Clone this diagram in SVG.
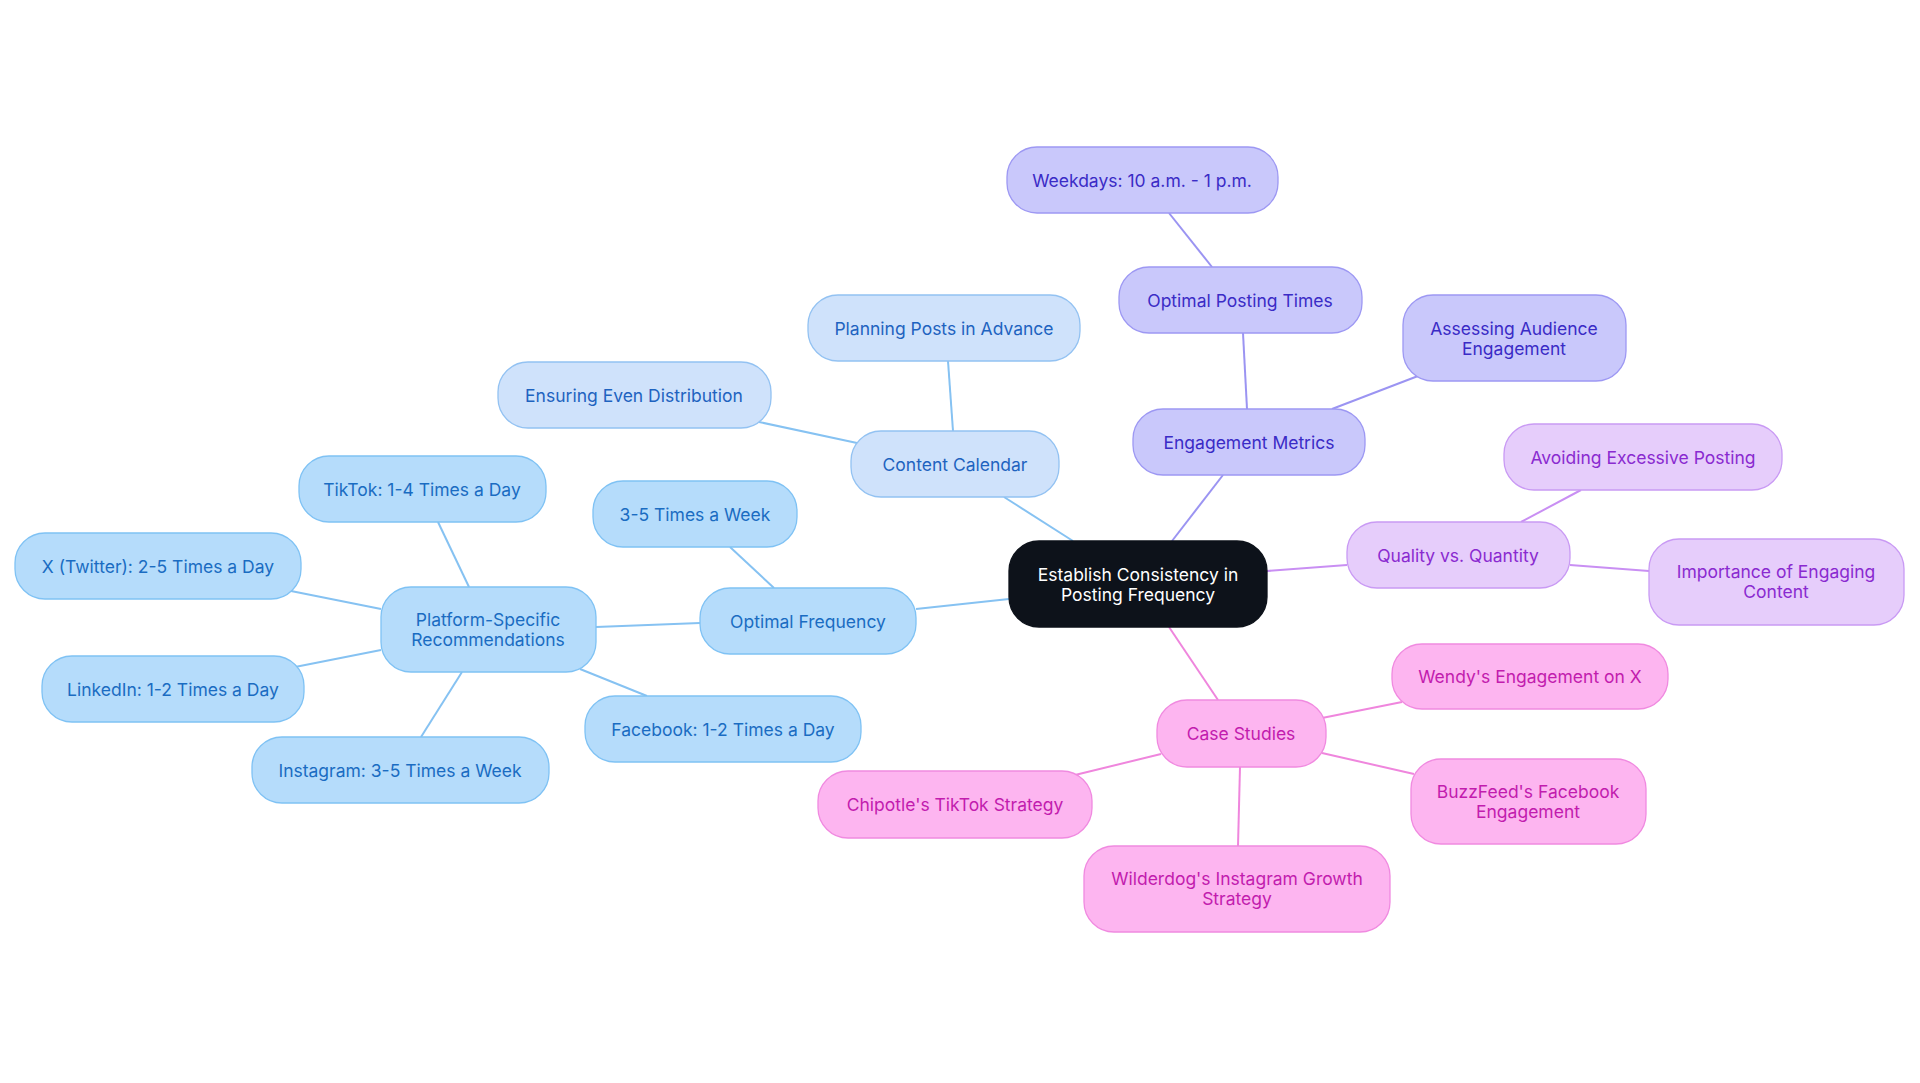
<svg xmlns="http://www.w3.org/2000/svg" width="1920" height="1083" viewBox="0 0 1920 1083">
<style>
text{font-family:Inter,"Noto Sans","Liberation Sans",sans-serif;font-size:17.5px;text-anchor:middle;dominant-baseline:central}
rect{stroke-width:1.3}
.c rect{fill:#0d121a;stroke:#0d121a}.c text{fill:#fff}
.b rect{fill:#b5dcfb;stroke:#7fc2f4}.b text{fill:#1a6cc2}
.l rect{fill:#cfe2fb;stroke:#93c2f2}.l text{fill:#1e63c0}
.p rect{fill:#c9c8fb;stroke:#9d98f3}.p text{fill:#3a2bc6}
.v rect{fill:#e6cdfb;stroke:#c99af4}.v text{fill:#8a2ad0}
.k rect{fill:#fdb5f0;stroke:#f08ae0}.k text{fill:#c21cae}
#edges line{stroke-width:2;fill:none}
</style>
<rect width="1920" height="1083" fill="#fff"/>
<g id="edges">
<g stroke="#86c2f2"><line x1="1009" y1="599" x2="916" y2="609"/><line x1="774" y1="588" x2="730" y2="547"/><line x1="700" y1="623" x2="596" y2="627"/><line x1="469" y1="587" x2="438" y2="522"/><line x1="381" y1="609" x2="291" y2="591"/><line x1="381" y1="650" x2="295" y2="667"/><line x1="462" y1="672" x2="421" y2="737"/><line x1="580" y1="669" x2="647" y2="696"/><line x1="1073" y1="541" x2="1004" y2="497"/><line x1="953" y1="431" x2="948" y2="361"/><line x1="857" y1="443" x2="759" y2="422"/></g>
<g stroke="#9b94f2"><line x1="1172" y1="541" x2="1223" y2="475"/><line x1="1247" y1="409" x2="1243" y2="333"/><line x1="1212" y1="267" x2="1169" y2="213"/><line x1="1332" y1="409" x2="1418" y2="376"/></g>
<g stroke="#c98ff3"><line x1="1267" y1="571" x2="1347" y2="565"/><line x1="1521" y1="522" x2="1581" y2="490"/><line x1="1570" y1="565" x2="1649" y2="571"/></g>
<g stroke="#ef86dd"><line x1="1169" y1="627" x2="1218" y2="700"/><line x1="1322" y1="718" x2="1402" y2="702"/><line x1="1322" y1="753" x2="1414" y2="774"/><line x1="1240" y1="767" x2="1238" y2="846"/><line x1="1161" y1="754" x2="1075" y2="775"/></g>
</g>
<g id="center" class="c"><rect x="1009" y="541" width="258" height="86" rx="30"/><text x="1138" y="574">Establish Consistency in</text><text x="1138" y="594">Posting Frequency</text></g>
<g id="optfreq" class="b"><rect x="700" y="588" width="216" height="66" rx="30"/><text x="808" y="621">Optimal Frequency</text></g>
<g id="t35" class="b"><rect x="593" y="481" width="204" height="66" rx="30"/><text x="695" y="514">3-5 Times a Week</text></g>
<g id="platform" class="b"><rect x="381" y="587" width="215" height="85" rx="30"/><text x="488" y="619">Platform-Specific</text><text x="488" y="639">Recommendations</text></g>
<g id="tiktok" class="b"><rect x="299" y="456" width="247" height="66" rx="30"/><text x="422" y="489">TikTok: 1-4 Times a Day</text></g>
<g id="x" class="b"><rect x="15" y="533" width="286" height="66" rx="30"/><text x="158" y="566">X (Twitter): 2-5 Times a Day</text></g>
<g id="linkedin" class="b"><rect x="42" y="656" width="262" height="66" rx="30"/><text x="173" y="689">LinkedIn: 1-2 Times a Day</text></g>
<g id="instagram" class="b"><rect x="252" y="737" width="297" height="66" rx="30"/><text x="400" y="770">Instagram: 3-5 Times a Week</text></g>
<g id="facebook" class="b"><rect x="585" y="696" width="276" height="66" rx="30"/><text x="723" y="729">Facebook: 1-2 Times a Day</text></g>
<g id="calendar" class="l"><rect x="851" y="431" width="208" height="66" rx="30"/><text x="955" y="464">Content Calendar</text></g>
<g id="planning" class="l"><rect x="808" y="295" width="272" height="66" rx="30"/><text x="944" y="328">Planning Posts in Advance</text></g>
<g id="ensuring" class="l"><rect x="498" y="362" width="273" height="66" rx="30"/><text x="634" y="395">Ensuring Even Distribution</text></g>
<g id="engagement" class="p"><rect x="1133" y="409" width="232" height="66" rx="30"/><text x="1249" y="442">Engagement Metrics</text></g>
<g id="posttimes" class="p"><rect x="1119" y="267" width="243" height="66" rx="30"/><text x="1240" y="300">Optimal Posting Times</text></g>
<g id="weekdays" class="p"><rect x="1007" y="147" width="271" height="66" rx="30"/><text x="1142" y="180">Weekdays: 10 a.m. - 1 p.m.</text></g>
<g id="assessing" class="p"><rect x="1403" y="295" width="223" height="86" rx="30"/><text x="1514" y="328">Assessing Audience</text><text x="1514" y="348">Engagement</text></g>
<g id="quality" class="v"><rect x="1347" y="522" width="223" height="66" rx="30"/><text x="1458" y="555">Quality vs. Quantity</text></g>
<g id="avoiding" class="v"><rect x="1504" y="424" width="278" height="66" rx="30"/><text x="1643" y="457">Avoiding Excessive Posting</text></g>
<g id="importance" class="v"><rect x="1649" y="539" width="255" height="86" rx="30"/><text x="1776" y="571">Importance of Engaging</text><text x="1776" y="591">Content</text></g>
<g id="cases" class="k"><rect x="1157" y="700" width="169" height="67" rx="30"/><text x="1241" y="733">Case Studies</text></g>
<g id="wendy" class="k"><rect x="1392" y="644" width="276" height="65" rx="30"/><text x="1530" y="676">Wendy's Engagement on X</text></g>
<g id="buzzfeed" class="k"><rect x="1411" y="759" width="235" height="85" rx="30"/><text x="1528" y="791">BuzzFeed's Facebook</text><text x="1528" y="811">Engagement</text></g>
<g id="wilderdog" class="k"><rect x="1084" y="846" width="306" height="86" rx="30"/><text x="1237" y="878">Wilderdog's Instagram Growth</text><text x="1237" y="898">Strategy</text></g>
<g id="chipotle" class="k"><rect x="818" y="771" width="274" height="67" rx="30"/><text x="955" y="804">Chipotle's TikTok Strategy</text></g>
</svg>
